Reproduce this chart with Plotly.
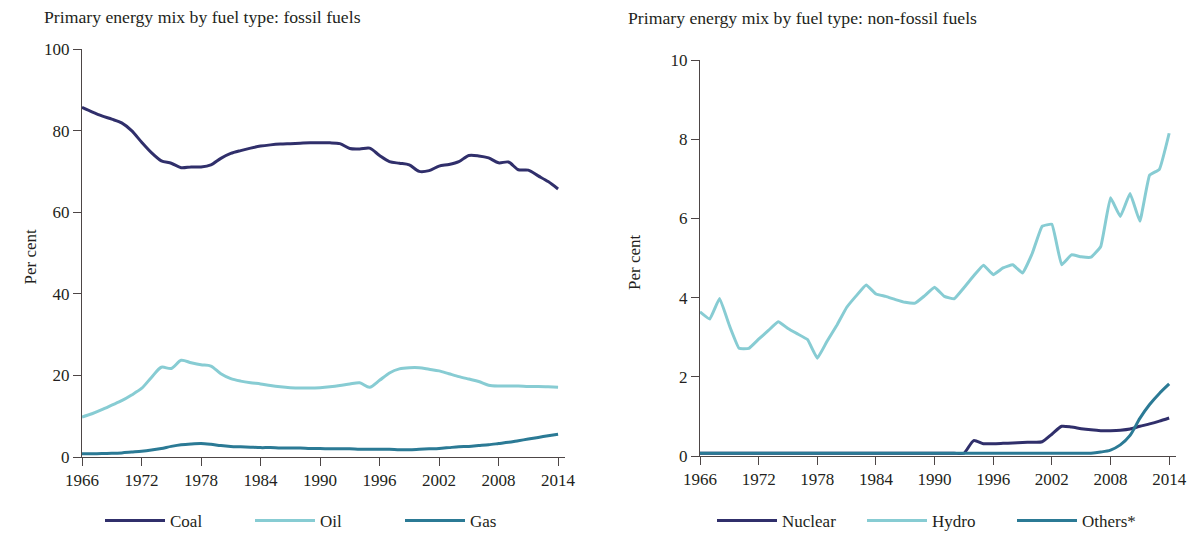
import plotly.graph_objs as go

# years on the axis
years = list(range(1966, 2015))

# fossil fuels, per cent of primary energy
coal = [85.7, 84.6, 83.6, 82.8, 81.9, 80.0, 77.2, 74.6, 72.6, 72.0,
        70.9, 71.1, 71.1, 71.6, 73.2, 74.4, 75.1, 75.7, 76.2, 76.5,
        76.7, 76.8, 76.9, 77.0, 77.0, 77.0, 76.8, 75.6, 75.5, 75.7,
        73.9, 72.4, 72.0, 71.6, 70.0, 70.2, 71.3, 71.7, 72.4, 73.9,
        73.8, 73.3, 72.1, 72.3, 70.4, 70.3, 68.9, 67.5, 65.7]
oil = [9.8, 10.6, 11.6, 12.7, 13.8, 15.2, 16.8, 19.5, 22.0, 21.7,
       23.7, 23.1, 22.6, 22.3, 20.4, 19.2, 18.6, 18.2, 17.9, 17.5,
       17.2, 17.0, 16.9, 16.9, 17.0, 17.2, 17.5, 17.9, 18.2, 17.1,
       18.8, 20.6, 21.6, 21.9, 21.9, 21.5, 21.1, 20.4, 19.7, 19.1,
       18.5, 17.6, 17.4, 17.4, 17.4, 17.3, 17.3, 17.2, 17.1]
gas = [0.8, 0.8, 0.85, 0.9, 1.0, 1.2, 1.4, 1.7, 2.1, 2.6,
       3.0, 3.2, 3.3, 3.1, 2.8, 2.6, 2.5, 2.4, 2.3, 2.3,
       2.2, 2.2, 2.2, 2.1, 2.1, 2.0, 2.0, 2.0, 1.9, 1.9,
       1.9, 1.9, 1.8, 1.8, 1.9, 2.0, 2.1, 2.3, 2.5, 2.6,
       2.8, 3.0, 3.3, 3.6, 4.0, 4.4, 4.8, 5.2, 5.6]

# non-fossil fuels, per cent of primary energy
nuclear = [0.07] * 28 + [0.39, 0.31, 0.31, 0.32, 0.33, 0.34, 0.35, 0.36,
                         0.55, 0.75, 0.73, 0.69, 0.66, 0.64, 0.64, 0.65,
                         0.68, 0.75, 0.81, 0.88, 0.96]
hydro = [3.64, 3.46, 3.98, 3.3, 2.72, 2.72, 2.95, 3.17, 3.39, 3.22,
         3.08, 2.94, 2.47, 2.9, 3.3, 3.75, 4.05, 4.32, 4.09, 4.03,
         3.95, 3.88, 3.86, 4.05, 4.26, 4.03, 3.97, 4.25, 4.55, 4.82,
         4.58, 4.75, 4.83, 4.62, 5.12, 5.80, 5.85, 4.83, 5.08, 5.03,
         5.02, 5.29, 6.52, 6.05, 6.63, 5.93, 7.09, 7.24, 8.15]
others = [0.07] * 41 + [0.10, 0.15, 0.28, 0.52, 0.95, 1.30, 1.58, 1.82]

NAVY = '#302f6b'
LIGHT = '#87ccd3'
TEAL = '#2b7a95'
FONT = 'Liberation Serif'
TXT = '#231f20'
AXC = '#4d4646'

# page body has an 8px margin, so the figure sits 8px in from the window corner
W, H = 1187, 525


def px(x):
    return (x - 8) / W


def py(y):
    return 1 - (y - 8) / H


traces = [
    go.Scatter(x=years, y=coal, name='Coal', line=dict(color=NAVY, width=3, shape='spline', smoothing=0.8), legend='legend'),
    go.Scatter(x=years, y=oil, name='Oil', line=dict(color=LIGHT, width=3, shape='spline', smoothing=0.8), legend='legend'),
    go.Scatter(x=years, y=gas, name='Gas', line=dict(color=TEAL, width=3, shape='spline', smoothing=0.8), legend='legend'),
    go.Scatter(x=years, y=nuclear, name='Nuclear', xaxis='x2', yaxis='y2',
               line=dict(color=NAVY, width=3, shape='spline', smoothing=0.6), legend='legend2'),
    go.Scatter(x=years, y=hydro, name='Hydro', xaxis='x2', yaxis='y2',
               line=dict(color=LIGHT, width=3, shape='spline', smoothing=0.3), legend='legend2'),
    go.Scatter(x=years, y=others, name='Others*', xaxis='x2', yaxis='y2',
               line=dict(color=TEAL, width=3, shape='spline', smoothing=0.8), legend='legend2'),
]


def xax(domain, anchor):
    return dict(domain=domain, anchor=anchor, range=[1966, 2014.7], tick0=1966, dtick=6,
                showgrid=False, zeroline=False, showline=True, linecolor=AXC, linewidth=1,
                ticks='outside', ticklen=8, tickcolor=AXC, tickfont=dict(family=FONT, size=17, color=TXT))


def yax(domain, anchor, top, step):
    return dict(domain=domain, anchor=anchor, range=[0, top], dtick=step,
                showgrid=False, zeroline=False, showline=True, linecolor=AXC, linewidth=1,
                ticks='outside', ticklen=8, tickcolor=AXC, tickfont=dict(family=FONT, size=17, color=TXT))


def leg(xc):
    return dict(orientation='h', x=px(xc), xanchor='center', y=py(521), yanchor='middle',
                font=dict(family=FONT, size=17, color=TXT), itemwidth=60, entrywidth=75)


layout = go.Layout(
    width=W, height=H,
    margin=dict(l=0, r=0, t=0, b=0, autoexpand=False),
    paper_bgcolor='white', plot_bgcolor='white',
    font=dict(family=FONT, color=TXT),
    xaxis=xax([px(82), px(565)], 'y'),
    yaxis=yax([py(457), py(49)], 'x', 100, 20),
    xaxis2=xax([px(700), px(1176)], 'y2'),
    yaxis2=yax([py(456), py(60)], 'x2', 10, 2),
    legend=leg(325),
    legend2=leg(937),
    annotations=[
        dict(text='Primary energy mix by fuel type: fossil fuels', xref='paper', yref='paper',
             x=px(42), y=py(17), xanchor='left', yanchor='middle', showarrow=False,
             font=dict(family=FONT, size=17.7, color=TXT)),
        dict(text='Primary energy mix by fuel type: non-fossil fuels', xref='paper', yref='paper',
             x=px(626), y=py(18), xanchor='left', yanchor='middle', showarrow=False,
             font=dict(family=FONT, size=17.7, color=TXT)),
        dict(text='Per cent', xref='paper', yref='paper', x=px(18), y=py(257),
             textangle=-90, showarrow=False, font=dict(family=FONT, size=17, color=TXT)),
        dict(text='Per cent', xref='paper', yref='paper', x=px(634), y=py(262),
             textangle=-90, showarrow=False, font=dict(family=FONT, size=17, color=TXT)),
    ],
)

fig = go.Figure(data=traces, layout=layout)
fig.write_html("out.html")
